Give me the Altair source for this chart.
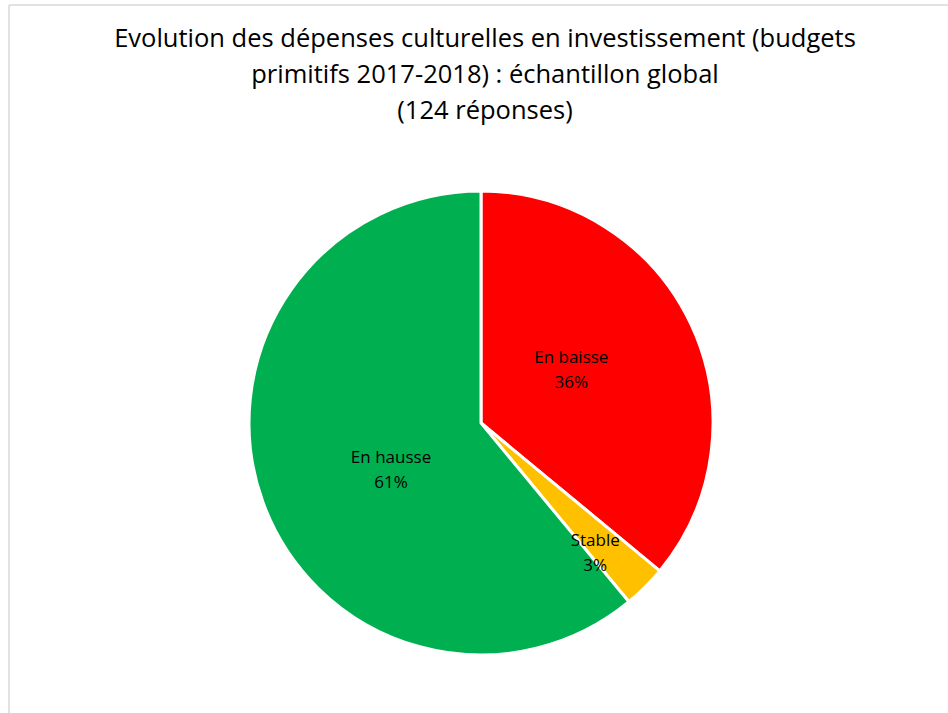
import altair as alt
import pandas as pd

categories = ["En baisse", "Stable", "En hausse"]
percents = [36, 3, 61]
colors = ["#FF0000", "#FFC000", "#00B050"]
title_lines = ["Evolution des dépenses culturelles en investissement (budgets",
               "primitifs 2017-2018) : échantillon global",
               "(124 réponses)"]

df = pd.DataFrame({
    "categorie": categories,
    "pct": percents,
    "ordre": list(range(len(categories))),
})
df["label"] = df["categorie"] + "\n" + df["pct"].astype(str) + "%"

W, H = 948, 713
CX, CY, R = 481, 423, 232
FONT = "Open Sans"

base = alt.Chart(df)

pie = base.mark_arc(radius=R, stroke="white", strokeWidth=3).encode(
    theta=alt.Theta("pct:Q", stack=True),
    order=alt.Order("ordre:Q"),
    color=alt.Color("categorie:N", scale=alt.Scale(domain=categories, range=colors), legend=None),
    x=alt.value(CX), y=alt.value(CY),
)

def labels(cat, radius, dx, dy):
    return base.mark_text(radius=radius, dx=dx, dy=dy, font=FONT, fontSize=17, color="#000000",
                          lineBreak="\n", lineHeight=25, align="center", baseline="middle").encode(
        theta=alt.Theta("pct:Q", stack=True),
        order=alt.Order("ordre:Q"),
        text="label:N",
        x=alt.value(CX), y=alt.value(CY),
        opacity=alt.condition(alt.FieldOneOfPredicate(field="categorie", oneOf=[cat]), alt.value(1), alt.value(0)),
    )

lab1 = labels("En baisse", 102, -2, -22)
lab2 = labels("Stable", 170, -6, -2)
lab3 = labels("En hausse", 102, 6, 0)

title = alt.Chart(pd.DataFrame({"t": ["\n".join(title_lines)]})).mark_text(
    font=FONT, fontSize=25.5, color="#000000", lineBreak="\n", lineHeight=36,
    align="center", baseline="top").encode(
    text="t:N", x=alt.value(485), y=alt.value(27))

frame_top = alt.Chart(pd.DataFrame({"a": [0]})).mark_rule(color="#d9d9d9", strokeWidth=1.5).encode(
    x=alt.value(9), x2=alt.value(W), y=alt.value(5))
frame_left = alt.Chart(pd.DataFrame({"a": [0]})).mark_rule(color="#d9d9d9", strokeWidth=1.5).encode(
    x=alt.value(9), y=alt.value(5), y2=alt.value(H))

chart = alt.layer(frame_top, frame_left, pie, lab1, lab2, lab3, title).properties(
    width=W, height=H, padding=0, autosize=alt.AutoSizeParams(type="none"),
    background="white",
).configure_view(stroke=None)

chart.save("out.html", embed_options={"renderer": "svg", "actions": False})
